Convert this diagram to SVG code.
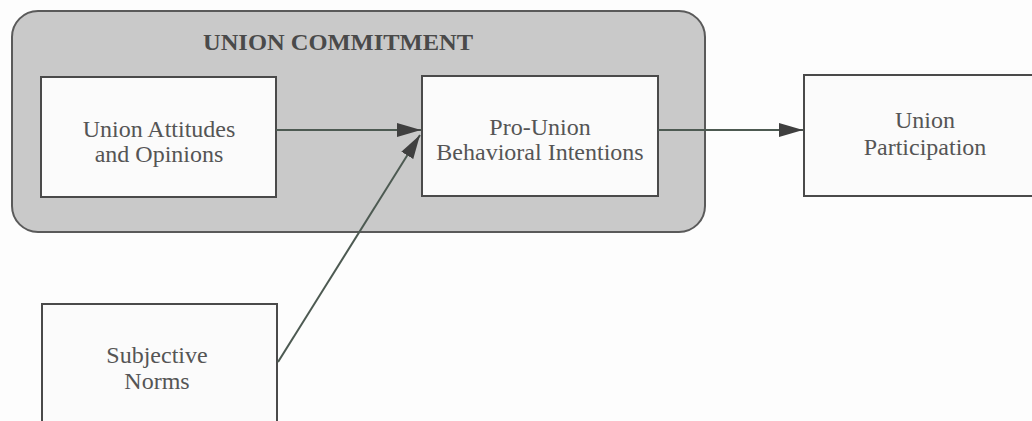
<svg xmlns="http://www.w3.org/2000/svg" width="1032" height="421" viewBox="0 0 1032 421">
  <defs>
    <style>
      .box { fill: #fbfbfb; stroke: #4a4a4a; stroke-width: 2; }
      .lbl { font-family: "Liberation Serif", "Times New Roman", serif; font-size: 24px; fill: #555; text-anchor: middle; }
      .title { font-family: "Liberation Serif", "Times New Roman", serif; font-size: 24px; font-weight: bold; fill: #4a4a4a; text-anchor: middle; }
      .conn { stroke: #4d5a52; stroke-width: 2; fill: none; marker-end: url(#arr); }
    </style>
    <marker id="arr" viewBox="0 0 24 14" refX="24" refY="7" markerWidth="24" markerHeight="14" markerUnits="userSpaceOnUse" orient="auto">
      <path d="M0,0 L24,7 L0,14 z" fill="#3f3f3f"/>
    </marker>
  </defs>
  <rect width="1032" height="421" fill="#fdfdfd"/>
  <g id="union-commitment">
    <rect x="12" y="11" width="693" height="221" rx="26" ry="26" fill="#c9c9c9" stroke="#5a5a5a" stroke-width="2"/>
    <text class="title" x="338" y="50" textLength="270" lengthAdjust="spacingAndGlyphs">UNION COMMITMENT</text>
  </g>
  <g id="attitudes">
    <rect class="box" x="41" y="77" width="235" height="120"/>
    <text class="lbl" x="159" y="137">Union Attitudes</text>
    <text class="lbl" x="159" y="162">and Opinions</text>
  </g>
  <g id="intentions">
    <rect class="box" x="422" y="76" width="236" height="120"/>
    <text class="lbl" x="540" y="135">Pro-Union</text>
    <text class="lbl" x="540" y="160">Behavioral Intentions</text>
  </g>
  <g id="participation">
    <rect class="box" x="804" y="75" width="242" height="121"/>
    <text class="lbl" x="925" y="128">Union</text>
    <text class="lbl" x="925" y="155">Participation</text>
  </g>
  <g id="norms">
    <rect class="box" x="42" y="304" width="235" height="130"/>
    <text class="lbl" x="157" y="363">Subjective</text>
    <text class="lbl" x="157" y="389">Norms</text>
  </g>
  <g id="connectors">
    <line class="conn" x1="276" y1="130" x2="421" y2="130"/>
    <line class="conn" x1="658" y1="130" x2="803" y2="130"/>
    <line class="conn" x1="278" y1="362" x2="420" y2="135"/>
  </g>
</svg>
